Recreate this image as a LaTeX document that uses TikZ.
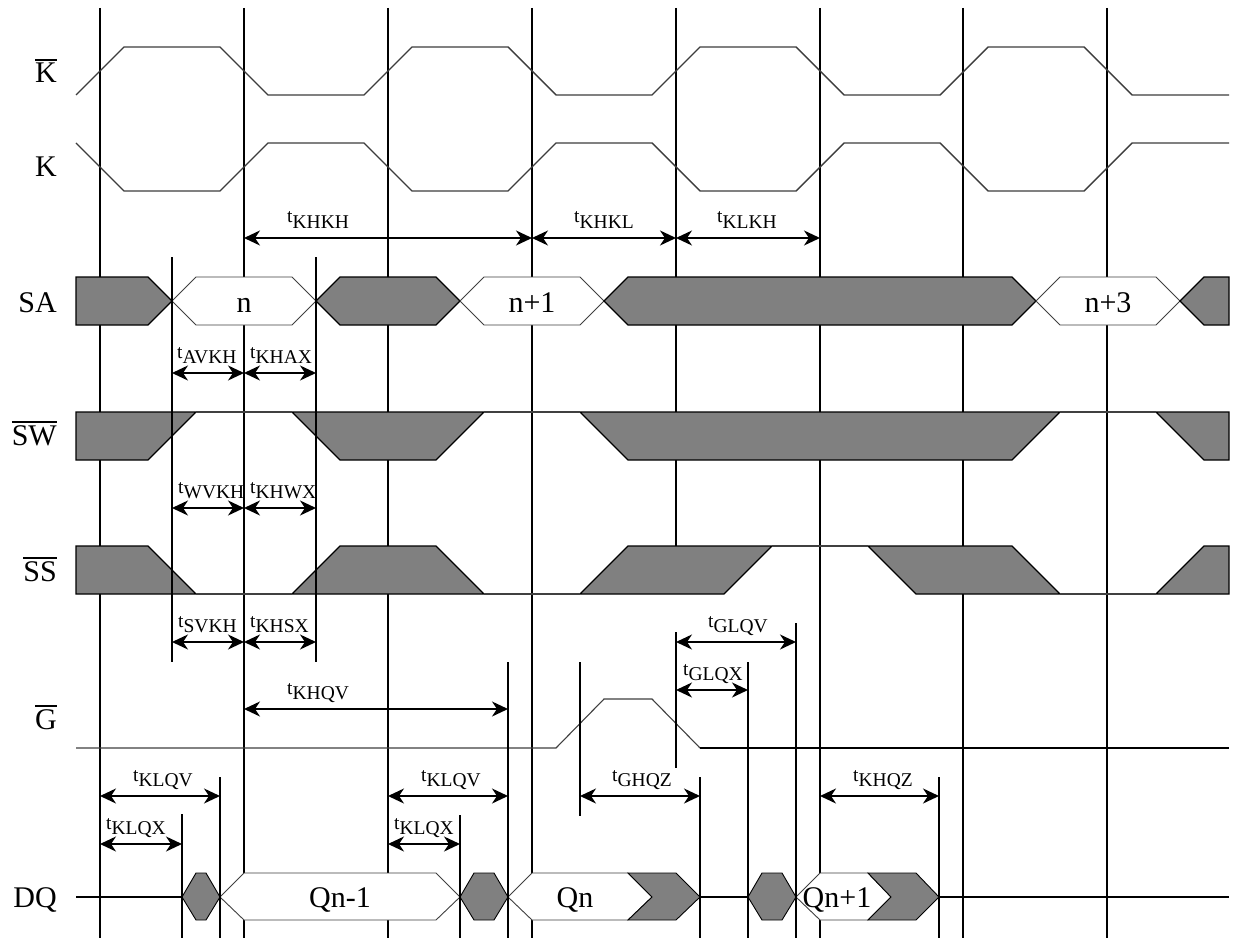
\documentclass[tikz,border=0pt]{standalone}
\usepackage{fontspec}
\setmainfont{Liberation Serif}
\usetikzlibrary{arrows.meta}
\definecolor{busgray}{RGB}{128,128,128}
\definecolor{clk}{RGB}{60,60,60}
\newcommand\ovl[1]{\vbox{\hrule height 1.5pt\kern 2.5pt\hbox{#1}}}
\newcommand\tsub[1]{t\raisebox{-5.5pt}{#1}}
\newcommand\dimarr[6]{%
  \coordinate (#1a) at (#2,#4);
  \coordinate (#1b) at (#3,#4);
  \draw[dimline] (#1a) -- (#1b);
  \node[tlbl] (#1) at (#5,#4-15) {\tsub{#6}};}
\begin{document}
\begin{tikzpicture}[x=1pt,y=-1pt,
  mainline/.style={line width=2pt, black},
  shortline/.style={line width=2pt, black},
  clock/.style={line width=1.4pt, clk, line join=miter},
  graybus/.style={fill=busgray, draw=black, line width=1.2pt, line join=miter},
  whitebus/.style={fill=white, draw=black!75, line width=0.9pt, line join=miter},
  sig/.style={line width=2pt, black},
  thinsig/.style={line width=1.1pt, black!75},
  dimline/.style={line width=2pt, {Stealth[length=16pt,width=15pt,inset=5pt]}-{Stealth[length=16pt,width=15pt,inset=5pt]}},
  lbl/.style={anchor=base east, inner sep=0pt, font=\fontsize{30}{36}\selectfont},
  bustext/.style={anchor=base, inner sep=0pt, font=\fontsize{30}{36}\selectfont},
  tlbl/.style={anchor=base west, inner sep=0pt, font=\fontsize{19.5}{23}\selectfont}]
\useasboundingbox[fill=white] (0,0) rectangle (1233,941);

% main vertical lines
\foreach \x in {100,244,388,532,820,963,1107}
  \draw[mainline] (\x,8) -- (\x,938);
\draw[mainline] (676,8) -- (676,594);

% clocks
\draw[clock] (76,95)--(124,47)--(220,47)--(268,95)--(364,95)--(412,47)--(508,47)--(556,95)--(652,95)--(700,47)--(796,47)--(844,95)--(940,95)--(988,47)--(1084,47)--(1132,95)--(1229,95);
\draw[clock] (76,143)--(124,191)--(220,191)--(268,143)--(364,143)--(412,191)--(508,191)--(556,143)--(652,143)--(700,191)--(796,191)--(844,143)--(940,143)--(988,191)--(1084,191)--(1132,143)--(1229,143);

% SA
\draw[graybus] (76,277)--(148,277)--(172,301)--(148,325)--(76,325)--cycle;
\draw[whitebus] (172,301)--(196,277)--(292,277)--(316,301)--(292,325)--(196,325)--cycle;
\draw[graybus] (316,301)--(340,277)--(436,277)--(460,301)--(436,325)--(340,325)--cycle;
\draw[whitebus] (460,301)--(484,277)--(580,277)--(604,301)--(580,325)--(484,325)--cycle;
\draw[graybus] (604,301)--(628,277)--(1012,277)--(1036,301)--(1012,325)--(628,325)--cycle;
\draw[whitebus] (1036,301)--(1060,277)--(1156,277)--(1180,301)--(1156,325)--(1060,325)--cycle;
\draw[graybus] (1180,301)--(1204,277)--(1229,277)--(1229,325)--(1204,325)--cycle;
\node[bustext] (tn) at (244,312) {n};
\node[bustext] (tn1) at (532,312) {n+1};
\node[bustext] (tn3) at (1108,312) {n+3};

% SW
\draw[graybus] (76,412)--(196,412)--(148,460)--(76,460)--cycle;
\draw[graybus] (292,412)--(484,412)--(436,460)--(340,460)--cycle;
\draw[graybus] (580,412)--(1060,412)--(1012,460)--(628,460)--cycle;
\draw[graybus] (1156,412)--(1229,412)--(1229,460)--(1204,460)--cycle;
\draw[thinsig] (196,412)--(292,412) (484,412)--(580,412) (1060,412)--(1156,412);

% SS
\draw[graybus] (76,546)--(148,546)--(196,594)--(76,594)--cycle;
\draw[graybus] (292,594)--(340,546)--(436,546)--(484,594)--cycle;
\draw[graybus] (580,594)--(628,546)--(772,546)--(724,594)--cycle;
\draw[graybus] (868,546)--(1012,546)--(1060,594)--(916,594)--cycle;
\draw[graybus] (1156,594)--(1204,546)--(1229,546)--(1229,594)--cycle;
\draw[thinsig] (196,594)--(292,594) (484,594)--(580,594) (772,546)--(868,546) (1060,594)--(1156,594);

% G
\draw[thinsig] (76,748)--(556,748)--(604,699)--(652,699)--(700,748);
\draw[sig] (700,748)--(1229,748);

% DQ
\draw[sig] (76,897)--(182,897) (700,897)--(748,897) (939,897)--(1229,897);
\draw[graybus, line width=0.9pt] (182,897)--(196,873)--(206,873)--(220,897)--(206,920)--(196,920)--cycle;
\draw[whitebus] (220,897)--(244,873)--(436,873)--(460,897)--(436,920)--(244,920)--cycle;
\draw[graybus, line width=0.9pt] (460,897)--(474,873)--(494,873)--(508,897)--(494,920)--(474,920)--cycle;
\draw[whitebus] (508,897)--(532,873)--(628,873)--(652,897)--(628,920)--(532,920)--cycle;
\draw[graybus, line width=0.9pt] (628,873)--(676,873)--(700,897)--(676,920)--(628,920)--(652,897)--cycle;
\draw[graybus, line width=0.9pt] (748,897)--(762,873)--(782,873)--(796,897)--(782,920)--(762,920)--cycle;
\draw[whitebus] (796,897)--(820,873)--(868,873)--(891,897)--(868,920)--(820,920)--cycle;
\draw[graybus, line width=0.9pt] (868,873)--(916,873)--(939,897)--(916,920)--(868,920)--(891,897)--cycle;
\node[bustext] (tq0) at (340,907) {Qn-1};
\node[bustext] (tq1) at (575,907) {Qn};
\node[bustext] (tq2) at (837,907) {Qn+1};

% short vertical lines
\draw[shortline] (172,257)--(172,662);
\draw[shortline] (316,257)--(316,662);
\draw[shortline] (182,814)--(182,938);
\draw[shortline] (220,777)--(220,938);
\draw[shortline] (460,815)--(460,938);
\draw[shortline] (508,662)--(508,938);
\draw[shortline] (580,662)--(580,816);
\draw[shortline] (676,632)--(676,768);
\draw[shortline] (700,777)--(700,938);
\draw[shortline] (748,662)--(748,938);
\draw[shortline] (796,623)--(796,938);
\draw[shortline] (939,777)--(939,938);

% signal labels
\node[lbl] (lKb) at (57,83) {\ovl{K}};
\node[lbl] (lK) at (57,177) {K};
\node[lbl] (lSA) at (57,312) {SA};
\node[lbl] (lSW) at (57,445) {\ovl{SW}};
\node[lbl] (lSS) at (57,581) {\ovl{SS}};
\node[lbl] (lG) at (57,729) {\ovl{G}};
\node[lbl] (lDQ) at (57,907) {DQ};

% timing arrows
\dimarr{khkh}{244}{532}{238}{287}{KHKH}
\dimarr{khkl}{532}{676}{238}{574}{KHKL}
\dimarr{klkh}{676}{820}{238}{717}{KLKH}
\dimarr{avkh}{172}{244}{373}{177}{AVKH}
\dimarr{khax}{244}{316}{373}{250}{KHAX}
\dimarr{wvkh}{172}{244}{508}{178}{WVKH}
\dimarr{khwx}{244}{316}{508}{250}{KHWX}
\dimarr{svkh}{172}{244}{642}{178}{SVKH}
\dimarr{khsx}{244}{316}{642}{250}{KHSX}
\dimarr{khqv}{244}{508}{709}{287}{KHQV}
\dimarr{glqv}{676}{796}{642}{708}{GLQV}
\dimarr{glqx}{676}{748}{690}{683}{GLQX}
\dimarr{klqva}{100}{220}{796}{133}{KLQV}
\dimarr{klqxa}{100}{182}{844}{106}{KLQX}
\dimarr{klqvb}{388}{508}{796}{421}{KLQV}
\dimarr{klqxb}{388}{460}{844}{394}{KLQX}
\dimarr{ghqz}{580}{700}{796}{612}{GHQZ}
\dimarr{khqz}{820}{939}{796}{853}{KHQZ}
\end{tikzpicture}
\end{document}
